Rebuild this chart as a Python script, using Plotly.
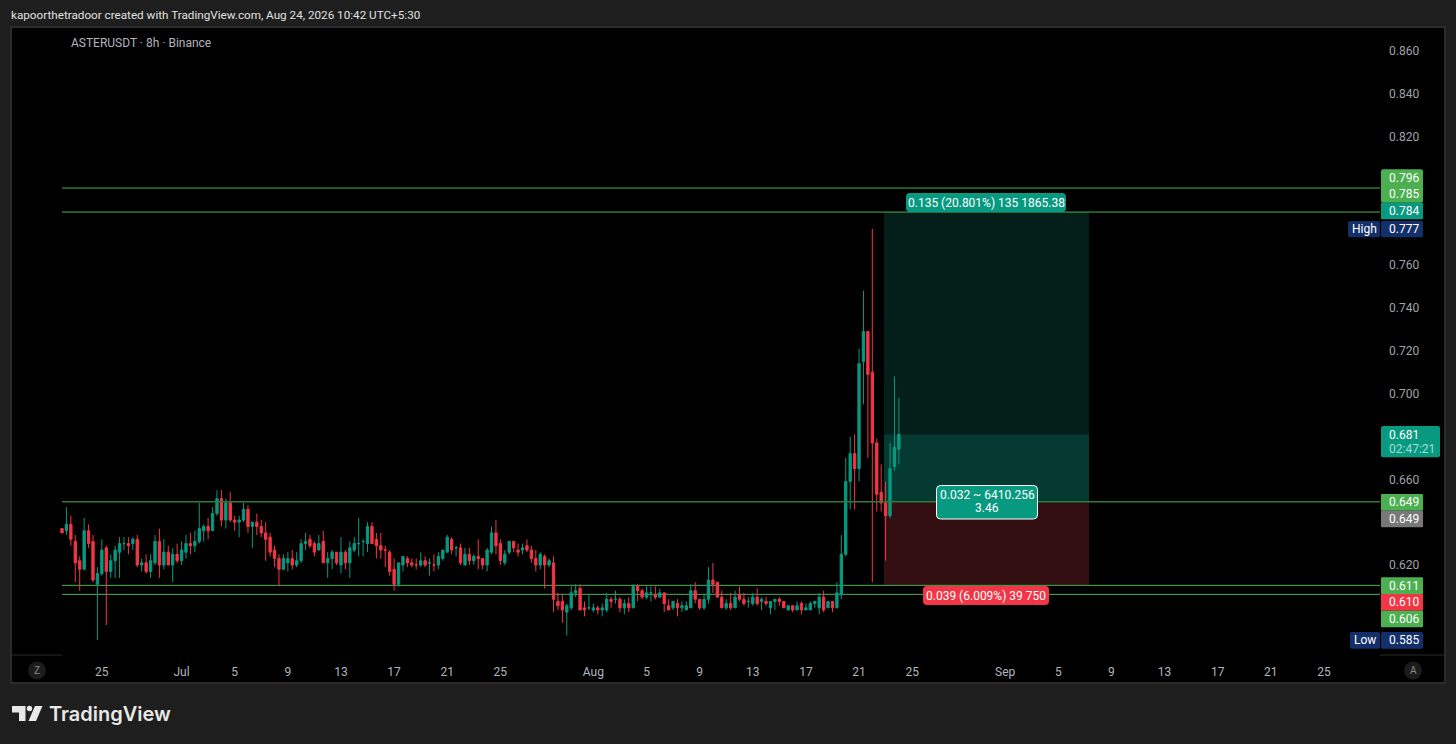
import pandas as pd
import plotly.graph_objects as go

# ---------- data ----------
first_bar = "2026-06-22 05:30"
open_px = [
 .637,.636,.639,.631,.622,.618,.636,.631,.611,.616,
 .628,.617,.622,.626,.630,.630,.630,.632,.620,.621,
 .617,.621,.631,.620,.626,.620,.625,.622,.626,.630,
 .629,.631,.636,.638,.636,.644,.651,.641,.649,.641,
 .640,.641,.646,.638,.640,.638,.635,.633,.627,.623,
 .618,.621,.623,.620,.622,.630,.632,.630,.627,.631,
 .621,.623,.626,.620,.626,.621,.627,.630,.631,.630,
 .638,.632,.629,.627,.626,.618,.611,.620,.623,.621,
 .620,.620,.622,.621,.620,.620,.623,.626,.632,.628,
 .628,.620,.625,.622,.624,.623,.620,.626,.635,.630,
 .621,.626,.631,.627,.627,.629,.627,.623,.620,.624,
 .620,.621,.603,.603,.598,.600,.607,.609,.600,.600,
 .599,.600,.599,.599,.604,.604,.604,.600,.602,.600,
 .610,.608,.605,.607,.606,.605,.607,.601,.600,.602,
 .600,.599,.600,.608,.604,.600,.604,.613,.612,.605,
 .600,.602,.600,.606,.604,.603,.602,.605,.603,.603,
 .600,.603,.604,.603,.599,.601,.599,.602,.599,.599,
 .602,.600,.605,.600,.603,.600,.606,.625,.659,.672,
 .665,.715,.729,.710,.677,.654,.649,.643,.666,.674]
high_px = [
 .637,.647,.643,.634,.624,.642,.639,.634,.619,.632,
 .629,.625,.629,.633,.633,.633,.633,.634,.623,.625,
 .625,.634,.637,.632,.629,.628,.630,.631,.634,.635,
 .636,.649,.639,.642,.647,.655,.655,.651,.654,.643,
 .643,.649,.648,.640,.644,.641,.640,.635,.629,.625,
 .625,.626,.627,.626,.632,.635,.634,.631,.634,.636,
 .626,.627,.626,.633,.627,.631,.633,.642,.632,.640,
 .640,.635,.635,.629,.627,.623,.621,.624,.624,.623,
 .623,.626,.624,.623,.625,.626,.627,.634,.633,.629,
 .630,.628,.628,.625,.632,.623,.628,.638,.641,.632,
 .627,.631,.631,.630,.630,.632,.629,.627,.626,.625,
 .623,.624,.607,.606,.602,.610,.611,.611,.603,.606,
 .602,.601,.602,.607,.605,.608,.605,.604,.605,.611,
 .611,.609,.610,.610,.610,.609,.607,.604,.603,.604,
 .603,.603,.611,.612,.604,.606,.619,.621,.612,.608,
 .604,.607,.608,.610,.607,.605,.607,.609,.605,.605,
 .603,.604,.605,.603,.601,.601,.603,.603,.602,.603,
 .603,.607,.608,.603,.603,.612,.634,.670,.680,.681,
 .721,.748,.729,.777,.679,.667,.659,.677,.708,.698]
low_px = [
 .635,.634,.629,.612,.608,.618,.628,.612,.585,.615,
 .592,.614,.614,.614,.627,.625,.627,.619,.617,.616,
 .614,.620,.614,.618,.620,.612,.621,.620,.623,.625,
 .626,.630,.631,.632,.636,.643,.638,.637,.640,.636,
 .633,.640,.635,.628,.634,.633,.622,.624,.619,.610,
 .618,.617,.618,.619,.621,.627,.628,.624,.627,.621,
 .614,.618,.620,.616,.618,.614,.626,.624,.624,.626,
 .630,.623,.623,.619,.615,.608,.610,.617,.619,.619,
 .618,.619,.619,.615,.617,.618,.622,.626,.625,.624,
 .620,.620,.620,.620,.618,.618,.617,.625,.625,.620,
 .620,.625,.626,.624,.625,.626,.621,.617,.618,.609,
 .619,.598,.599,.593,.587,.599,.605,.599,.596,.599,
 .598,.597,.596,.598,.600,.602,.598,.597,.598,.600,
 .603,.604,.604,.603,.604,.605,.598,.599,.599,.596,
 .598,.599,.600,.602,.599,.599,.602,.607,.605,.600,
 .599,.599,.600,.603,.601,.600,.601,.601,.599,.601,
 .597,.599,.601,.600,.599,.598,.599,.597,.599,.599,
 .600,.597,.598,.600,.598,.600,.604,.624,.646,.646,
 .659,.695,.670,.612,.645,.645,.622,.642,.664,.667]
close_px = [
 .635,.639,.632,.621,.618,.636,.630,.613,.616,.627,
 .617,.622,.627,.630,.630,.629,.632,.620,.621,.617,
 .622,.631,.620,.626,.620,.625,.622,.627,.630,.629,
 .631,.637,.638,.636,.644,.651,.641,.649,.641,.640,
 .641,.646,.638,.640,.638,.635,.632,.626,.623,.618,
 .623,.623,.620,.622,.630,.631,.629,.626,.630,.621,
 .623,.626,.621,.626,.621,.628,.630,.630,.631,.638,
 .630,.629,.627,.627,.617,.611,.621,.624,.621,.620,
 .620,.622,.620,.621,.620,.624,.627,.633,.627,.628,
 .621,.625,.622,.624,.623,.620,.627,.635,.629,.622,
 .625,.631,.628,.626,.628,.627,.623,.620,.625,.620,
 .622,.604,.601,.599,.601,.607,.608,.599,.599,.600,
 .600,.599,.600,.604,.603,.604,.600,.602,.600,.610,
 .608,.605,.607,.607,.605,.607,.602,.599,.603,.600,
 .601,.601,.608,.604,.600,.604,.613,.611,.605,.600,
 .602,.600,.605,.604,.602,.603,.605,.602,.604,.602,
 .603,.604,.603,.600,.601,.599,.601,.599,.600,.602,
 .603,.605,.599,.603,.600,.607,.625,.659,.672,.665,
 .714,.729,.709,.677,.653,.649,.643,.665,.675,.681]

price_ticks = [0.86, 0.84, 0.82, 0.76, 0.74, 0.72, 0.70, 0.66, 0.62]
date_ticks = ["2026-06-25","2026-07-01","2026-07-05","2026-07-09","2026-07-13","2026-07-17",
              "2026-07-21","2026-07-25","2026-08-01","2026-08-05","2026-08-09","2026-08-13",
              "2026-08-17","2026-08-21","2026-08-25","2026-09-01","2026-09-05","2026-09-09",
              "2026-09-13","2026-09-17","2026-09-21","2026-09-25"]
date_labels = ["25","Jul","5","9","13","17","21","25","Aug","5","9","13","17","21","25",
               "Sep","5","9","13","17","21","25"]
level_lines = [0.796, 0.7848, 0.6105, 0.6063]
entry_price, current_price, stop_price, target_price = 0.6495, 0.681, 0.6105, 0.7848

# ---------- styling ----------
UP, DOWN, GREEN, NAVY = "#089981", "#f23645", "#4caf50", "#14306b"
OUTER, FRAME = "#1e1e1e", "#2c2c2c"
FONT = "Roboto"
L, R, T, B = 11, 1380, 27, 655          # plot rectangle in page pixels

times = pd.date_range(first_bar, periods=len(close_px), freq="8h")
t0 = times[0]
def bar_time(i):
    return t0 + pd.Timedelta(hours=8 * i)
PX_PER_BAR = 4.428
def px_time(x):
    return bar_time((x - 62) / PX_PER_BAR)
px_per_price = 2141.7
def ypx_price(y):
    return 0.86 - (y - 51) / px_per_price

def X(x): return (x - L) / (R - L)
def Y(y): return (B - y) / (B - T)

shapes, annots = [], []

def rect(x0, y0, x1, y1, fill, line=None, lw=0, layer="above", r=0):
    if r:
        a0, a1, b0, b1 = X(x0), X(x1), Y(y0), Y(y1)
        rx, ry = r / (R - L), r / (B - T)
        path = (f"M{a0+rx},{b0} L{a1-rx},{b0} Q{a1},{b0} {a1},{b0-ry} L{a1},{b1+ry} Q{a1},{b1} {a1-rx},{b1} "
                f"L{a0+rx},{b1} Q{a0},{b1} {a0},{b1+ry} L{a0},{b0-ry} Q{a0},{b0} {a0+rx},{b0} Z")
        shapes.append(dict(type="path", path=path, xref="paper", yref="paper", fillcolor=fill,
                           line=dict(color=line or fill, width=lw), layer=layer))
    else:
        shapes.append(dict(type="rect", xref="paper", yref="paper", x0=X(x0), x1=X(x1), y0=Y(y0), y1=Y(y1),
                           fillcolor=fill, line=dict(color=line or fill, width=lw), layer=layer))

def text(x, y, s, color="#ffffff", size=12, anchor="center", family=FONT, weight="normal"):
    annots.append(dict(xref="paper", yref="paper", x=X(x), y=Y(y), text=s, showarrow=False,
                       xanchor=anchor, yanchor="middle", align=anchor if anchor != "middle" else "center",
                       font=dict(color=color, size=size, family=family, weight=weight)))

# black panel & frame
rect(11, 27, 1445, 683, "#000000", FRAME, 2, layer="below")
for xa, xb in ((11, 62), (1380, 1445)):
    shapes.append(dict(type="line", xref="paper", yref="paper", x0=X(xa), x1=X(xb), y0=Y(655), y1=Y(655),
                       line=dict(color="#2a2a2a", width=1), layer="below"))

# risk / reward boxes
box0, box1 = px_time(884), px_time(1089)
for low, high, col in ((current_price, target_price, "#041f1a"),
                       (entry_price, current_price, "#053a32"),
                       (stop_price, entry_price, "#330f12")):
    shapes.append(dict(type="rect", xref="x", yref="y", x0=box0, x1=box1, y0=low, y1=high,
                       fillcolor=col, line=dict(width=0), layer="below"))

# horizontal levels
line_x0, line_x1 = px_time(62), px_time(1380)
for lv in level_lines:
    shapes.append(dict(type="line", xref="x", yref="y", x0=line_x0, x1=line_x1, y0=lv, y1=lv,
                       line=dict(color=GREEN, width=1), layer="below"))
shapes.append(dict(type="line", xref="x", yref="y", x0=line_x0, x1=line_x1, y0=entry_price, y1=entry_price,
                   line=dict(color="#2f7d32", width=1.5), layer="above"))

# price axis labels
rect(1381, 169.3, 1423, 202.7, GREEN, r=2)
rect(1381, 202.7, 1423, 219.3, UP, r=1)
rect(1381, 221, 1423, 237.3, NAVY, r=2)
rect(1348, 221, 1380, 237.3, NAVY, r=2)
rect(1381, 426, 1440, 457.3, UP, r=2)
rect(1381, 494, 1423, 510.7, GREEN, r=1)
rect(1381, 510.7, 1423, 527.3, "#787878", r=1)
rect(1381, 577.3, 1423, 594, GREEN, r=1)
rect(1381, 594, 1423, 610.7, DOWN)
rect(1381, 610.7, 1423, 627.3, GREEN, r=1)
rect(1381, 632, 1423, 648.7, NAVY, r=2)
rect(1350, 632, 1380, 648.7, NAVY, r=2)
for y, s in ((177.7, "0.796"), (194.3, "0.785"), (211, "0.784"), (229, "0.777"), (435, "0.681"),
             (502, "0.649"), (519, "0.649"), (585.5, "0.611"), (602, "0.610"), (619, "0.606"), (640, "0.585")):
    text(1403.5, y, s)
text(1364, 229, "High"); text(1365, 640, "Low")
text(1412, 449, "02:47:21", color="#a5dcd0")

# position tool labels
rect(906, 193, 1066, 212, UP, r=4)
text(986, 202.5, "0.135 (20.801%) 135 1865.38")
rect(936.5, 485.5, 1037.5, 519, UP, "#ffffff", 1, r=4)
text(987, 495, "0.032 ~ 6410.256"); text(987, 508, "3.46")
rect(923, 586, 1049, 605, DOWN, r=4)
text(986, 595.5, "0.039 (6.009%) 39 750")

# corner buttons
for cx, s in ((37, "Z"), (1413, "A")):
    shapes.append(dict(type="circle", xref="paper", yref="paper", x0=X(cx - 9), x1=X(cx + 9),
                       y0=Y(670.5 + 9), y1=Y(670.5 - 9), fillcolor="#1c1c1c", line=dict(width=0), layer="above"))
    text(cx, 670.5, s, color="#8a8a8a", size=10)

# header, pane legend and logo
text(8.5, 15, "kapoorthetradoor created with TradingView.com, Aug 24, 2026 10:42 UTC+5:30",
     color="#e0e0e0", size=11.7, anchor="left")
text(68.5, 43, "ASTERUSDT · 8h · Binance", color="#b2b5be", size=12, anchor="left")
text(47, 714, "TradingView", color="#e8e8e8", size=20, anchor="left", family="Inter", weight=600)
def poly(pts, fill="#e8e8e8"):
    p = "M" + " L".join(f"{X(a)},{Y(b)}" for a, b in pts) + " Z"
    shapes.append(dict(type="path", path=p, xref="paper", yref="paper", fillcolor=fill, line=dict(width=0)))
poly([(12, 706), (25.5, 706), (25.5, 721), (19, 721), (19, 712.5), (12, 712.5)])
poly([(35, 706), (42.5, 706), (36, 721), (28.5, 721)])
shapes.append(dict(type="circle", xref="paper", yref="paper", x0=X(26.8), x1=X(32.2), y0=Y(711.2), y1=Y(705.8),
                   fillcolor="#e8e8e8", line=dict(width=0)))

# ---------- figure ----------
fig = go.Figure(go.Candlestick(
    x=times, open=open_px, high=high_px, low=low_px, close=close_px,
    increasing=dict(line=dict(color=UP, width=1), fillcolor=UP),
    decreasing=dict(line=dict(color=DOWN, width=1), fillcolor=DOWN),
    whiskerwidth=0, hoverinfo="skip"))

fig.update_layout(
    width=1456, height=744, autosize=False,
    margin=dict(l=L, r=1456 - R, t=T, b=744 - B, pad=0),
    paper_bgcolor=OUTER, plot_bgcolor="#000000",
    showlegend=False, boxgap=0.25,
    shapes=shapes, annotations=annots,
    font=dict(family=FONT, size=12, color="#b2b5be"),
    xaxis=dict(type="date", rangeslider=dict(visible=False), range=[px_time(L), px_time(R)],
               tickmode="array", tickvals=[d + " 05:30" for d in date_ticks], ticktext=date_labels,
               showgrid=False, zeroline=False, showline=False, ticks="", tickangle=0,
               tickfont=dict(color="#b2b5be", size=12, family=FONT), ticklabelstandoff=8),
    yaxis=dict(side="right", range=[ypx_price(B), ypx_price(T)], tickmode="array",
               tickvals=price_ticks, ticktext=[f"{v:.3f}" for v in price_ticks],
               showgrid=False, zeroline=False, showline=False, ticks="",
               tickfont=dict(color="#a0a3ab", size=12, family=FONT), ticklabelstandoff=8),
)

fig.write_html("out.html", config=dict(displayModeBar=False),
               post_script="document.body.style.margin='0';document.body.style.overflow='hidden';")
